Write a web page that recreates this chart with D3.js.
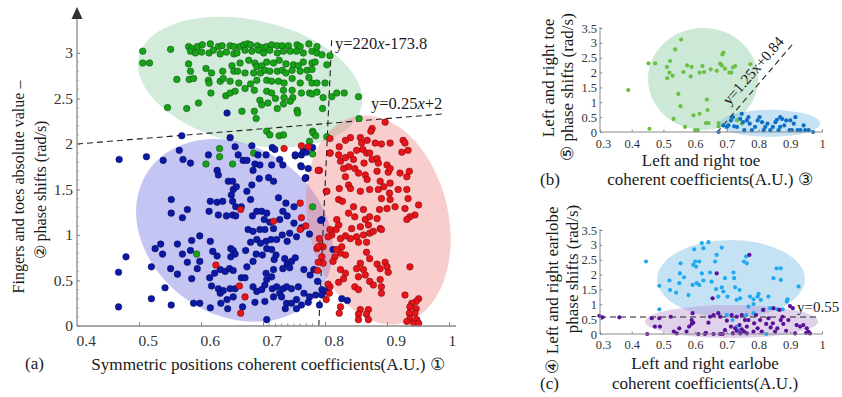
<!DOCTYPE html>
<html><head><meta charset="utf-8">
<script src="https://cdn.jsdelivr.net/npm/d3@7"></script>
<style>
body{margin:0;background:#fff;}
svg{display:block;font-family:"Liberation Serif","Times New Roman",serif;}
</style></head><body>
<svg id="c" width="842" height="397"></svg>
<script>
// ---------- DATA: panel (a) ----------
const xTicksA = [0.4,0.5,0.6,0.7,0.8,0.9,1];
const yTicksA = [0,0.5,1,1.5,2,2.5,3];
const greenA = [
[0.580,3.07],[0.585,3.05],[0.594,3.07],[0.602,3.09],[0.615,3.10],[0.628,3.07],[0.634,3.08],[0.647,3.08],[0.653,3.07],[0.663,3.07],[0.669,3.09],[0.675,3.10],[0.680,3.09],[0.691,3.08],[0.698,3.06],[0.706,3.07],[0.714,3.09],[0.723,3.08],[0.731,3.08],[0.741,3.08],[0.755,3.09],[0.760,3.07],[0.774,3.10],[0.787,3.07],
[0.506,3.02],[0.551,3.04],[0.583,3.02],[0.591,3.00],[0.601,3.01],[0.613,3.00],[0.620,3.03],[0.631,2.99],[0.641,3.01],[0.653,2.99],[0.658,3.00],[0.671,3.03],[0.682,3.02],[0.693,3.03],[0.701,3.00],[0.711,3.03],[0.723,3.00],[0.733,3.02],[0.744,3.02],[0.754,3.02],[0.765,3.00],[0.779,3.02],[0.787,3.00],[0.795,2.98],[0.808,2.97],
[0.506,2.89],[0.517,2.89],[0.580,2.88],[0.608,2.83],[0.650,2.86],[0.663,2.89],[0.677,2.92],[0.687,2.89],[0.690,2.85],[0.698,2.86],[0.706,2.90],[0.717,2.89],[0.726,2.92],[0.737,2.88],[0.749,2.87],[0.757,2.86],[0.765,2.90],[0.779,2.89],[0.784,2.90],[0.803,2.87],
[0.583,2.80],[0.617,2.78],[0.635,2.80],[0.653,2.80],[0.659,2.80],[0.671,2.78],[0.685,2.78],[0.696,2.78],[0.703,2.81],[0.711,2.80],[0.723,2.80],[0.731,2.81],[0.737,2.78],[0.747,2.81],[0.760,2.80],[0.771,2.81],[0.779,2.82],
[0.561,2.71],[0.581,2.71],[0.588,2.72],[0.612,2.70],[0.613,2.67],[0.631,2.69],[0.636,2.72],[0.647,2.69],[0.661,2.67],[0.680,2.66],[0.690,2.70],[0.706,2.70],[0.714,2.69],[0.725,2.69],[0.734,2.67],[0.747,2.72],[0.760,2.67],[0.774,2.73],[0.779,2.67],[0.787,2.67],[0.800,2.67],
[0.616,2.56],[0.640,2.53],[0.647,2.56],[0.655,2.58],[0.671,2.61],[0.686,2.59],[0.706,2.58],[0.714,2.56],[0.733,2.59],[0.734,2.51],[0.747,2.59],[0.748,2.51],[0.762,2.56],[0.775,2.56],[0.779,2.55],[0.787,2.57],[0.797,2.51],[0.811,2.52],[0.819,2.56],[0.831,2.56],[0.854,2.52],
[0.546,2.40],[0.577,2.39],[0.596,2.45],[0.666,2.36],[0.686,2.36],[0.689,2.28],[0.695,2.48],[0.698,2.43],[0.708,2.45],[0.723,2.39],[0.733,2.44],[0.744,2.47],[0.755,2.37],[0.756,2.34],[0.796,2.39],[0.855,2.28],[0.720,2.50],
[0.706,2.14],[0.711,2.10],[0.726,2.09],[0.733,2.10],[0.780,2.14],[0.775,2.03],[0.803,2.08],
[0.630,1.95],[0.630,1.86],[0.608,1.78],[0.651,1.78],[0.685,1.90],[0.780,1.89],[0.780,1.31],[0.593,0.79],[0.781,2.12],[0.785,2.09]
];
const blueA = [
[0.642,2.34],[0.569,2.09],[0.647,2.07],
[0.468,1.83],[0.512,1.86],[0.539,1.82],[0.565,1.93],[0.571,1.83],[0.583,1.79],[0.612,1.88],[0.626,1.71],[0.628,1.66],[0.655,1.97],[0.660,1.88],[0.668,1.82],[0.674,1.82],[0.682,1.98],[0.684,1.71],[0.687,1.78],[0.692,1.88],[0.695,1.77],[0.705,1.88],[0.714,1.77],[0.715,1.96],[0.719,1.94],[0.727,1.83],[0.732,1.77],[0.752,1.87],[0.762,1.88],[0.766,1.92],[0.761,1.76],[0.769,1.63],[0.773,1.73],[0.780,1.96],
[0.644,1.59],[0.651,1.59],[0.652,1.50],[0.649,1.44],[0.657,1.53],[0.674,1.48],[0.682,1.55],[0.694,1.62],[0.709,1.63],[0.717,1.59],[0.680,1.39],[0.725,1.41],[0.737,1.35],[0.750,1.31],[0.552,1.39],[0.615,1.37],[0.626,1.36],[0.635,1.37],[0.651,1.37],[0.656,1.31],[0.665,1.31],
[0.552,1.24],[0.570,1.19],[0.578,1.28],[0.613,1.26],[0.628,1.22],[0.641,1.21],[0.651,1.22],[0.656,1.21],[0.683,1.21],[0.690,1.26],[0.698,1.26],[0.706,1.24],[0.702,1.17],[0.711,1.14],[0.717,1.07],[0.727,1.17],[0.732,1.26],[0.739,1.21],[0.750,1.13],[0.762,1.08],[0.775,1.01],
[0.676,1.06],[0.684,1.04],[0.695,1.06],[0.703,1.06],[0.690,0.95],[0.680,0.92],[0.696,0.91],[0.705,0.93],[0.713,0.95],[0.722,0.95],[0.731,1.00],[0.739,0.93],[0.743,1.02],[0.754,0.98],[0.598,0.99],[0.585,0.94],[0.562,0.90],[0.535,0.90],[0.526,0.85],[0.538,0.79],[0.570,0.79],[0.583,0.83],[0.615,0.93],[0.619,0.82],
[0.479,0.76],[0.520,0.65],[0.551,0.63],[0.562,0.57],[0.578,0.70],[0.594,0.63],[0.598,0.71],[0.626,0.77],[0.648,0.85],[0.652,0.83],[0.648,0.76],[0.655,0.79],[0.672,0.83],[0.674,0.65],[0.684,0.71],[0.689,0.79],[0.699,0.78],[0.706,0.85],[0.714,0.84],[0.718,0.73],[0.721,0.78],[0.735,0.74],[0.739,0.68],[0.746,0.71],[0.752,0.75],[0.717,0.62],[0.732,0.63],[0.743,0.64],[0.766,0.62],[0.782,0.62],[0.776,0.56],[0.788,0.49],
[0.585,0.52],[0.614,0.53],[0.622,0.58],[0.631,0.62],[0.639,0.60],[0.646,0.63],[0.652,0.61],[0.665,0.53],[0.671,0.53],[0.705,0.58],[0.714,0.54],
[0.467,0.59],[0.542,0.42],[0.520,0.30],[0.552,0.23],[0.467,0.21],[0.588,0.25],[0.598,0.25],[0.615,0.20],[0.632,0.25],[0.642,0.29],[0.652,0.32],[0.643,0.19],[0.667,0.21],[0.628,0.41],[0.631,0.36],[0.636,0.39],[0.647,0.41],[0.655,0.41],[0.617,0.44],
[0.684,0.43],[0.690,0.38],[0.698,0.40],[0.703,0.45],[0.706,0.51],[0.715,0.41],[0.722,0.43],[0.727,0.36],[0.732,0.41],[0.738,0.43],[0.746,0.41],[0.757,0.43],[0.766,0.36],[0.775,0.32],[0.785,0.34],[0.795,0.40],[0.803,0.38],[0.805,0.45],
[0.687,0.26],[0.703,0.27],[0.717,0.32],[0.730,0.32],[0.738,0.25],[0.746,0.25],[0.754,0.29],[0.762,0.23],[0.773,0.26],[0.791,0.23],[0.736,0.19],[0.754,0.19],[0.706,0.07],
[0.752,1.88],[0.765,1.92],[0.770,1.91],[0.762,1.75],[0.768,1.62],[0.795,1.17],[0.813,0.84],[0.827,0.30],[0.836,0.28],[0.795,0.34],[0.793,1.16]
];
const redA = [
[0.897,2.24],[0.876,2.17],[0.874,2.14],[0.841,2.07],[0.833,2.04],[0.857,2.07],[0.868,2.04],[0.859,2.01],[0.881,2.01],[0.891,2.00],[0.905,2.01],[0.926,2.04],[0.929,2.01],[0.934,1.93],[0.924,1.91],
[0.808,1.90],[0.823,1.97],[0.822,1.88],[0.825,1.81],[0.833,1.85],[0.841,1.88],[0.851,1.93],[0.861,1.94],[0.867,1.90],[0.872,1.90],[0.876,1.83],[0.884,1.84],[0.886,1.79],[0.863,1.79],[0.846,1.83],
[0.838,1.75],[0.848,1.73],[0.830,1.73],[0.854,1.68],[0.865,1.66],[0.868,1.61],[0.884,1.70],[0.900,1.77],[0.902,1.69],[0.905,1.73],[0.921,1.68],[0.932,1.64],[0.936,1.70],[0.833,1.64],
[0.838,1.55],[0.823,1.51],[0.841,1.51],[0.857,1.48],[0.872,1.50],[0.886,1.50],[0.889,1.59],[0.895,1.53],[0.905,1.57],[0.918,1.50],[0.932,1.50],[0.934,1.40],[0.904,1.46],[0.891,1.40],[0.905,1.39],
[0.913,1.31],[0.900,1.29],[0.929,1.29],[0.951,1.33],[0.945,1.22],[0.937,1.20],[0.932,1.17],[0.822,1.39],[0.828,1.37],[0.846,1.31],[0.862,1.28],[0.888,1.28],[0.838,1.24],[0.848,1.20],[0.865,1.17],[0.872,1.20],[0.884,1.18],
[0.870,1.11],[0.857,1.09],[0.843,1.07],[0.889,1.07],[0.819,1.17],[0.822,1.11],[0.818,1.06],[0.808,1.06],[0.811,1.00],[0.805,0.98],[0.825,0.96],[0.833,0.99],[0.841,0.96],[0.851,0.98],[0.862,1.00],[0.872,1.02],[0.878,1.04],[0.891,1.06],
[0.854,0.92],[0.867,0.92],[0.827,0.87],[0.825,0.80],[0.833,0.78],[0.819,0.84],[0.816,0.76],[0.813,0.71],[0.867,0.81],[0.872,0.74],[0.857,0.69],[0.851,0.63],[0.862,0.62],[0.865,0.56],[0.854,0.54],
[0.884,0.68],[0.897,0.70],[0.900,0.65],[0.889,0.63],[0.902,0.59],[0.937,0.65],[0.825,0.62],[0.833,0.58],[0.830,0.52],[0.822,0.48],[0.848,0.43],[0.854,0.40],[0.872,0.49],[0.878,0.45],[0.889,0.51],[0.891,0.43],[0.891,0.36],
[0.929,0.34],[0.951,0.30],[0.947,0.27],[0.940,0.25],[0.947,0.19],[0.937,0.21],[0.945,0.14],[0.936,0.14],[0.937,0.08],[0.948,0.07],[0.932,0.05],[0.943,0.03],[0.951,0.03],
[0.857,0.18],[0.870,0.18],[0.854,0.13],[0.867,0.13],[0.854,0.07],[0.870,0.07],[0.825,0.21],[0.823,0.14],[0.808,0.43],[0.807,0.36],[0.802,1.48],[0.791,1.71],[0.808,2.06],[0.797,0.87],[0.795,0.76],[0.797,0.69],[0.792,0.88],[0.787,0.85],
[0.734,1.95],[0.762,1.98],[0.773,1.97],[0.789,1.71],[0.760,1.35],[0.762,1.19],[0.760,1.06],[0.769,1.10],[0.717,1.15],[0.664,1.28],[0.624,0.67],[0.662,0.44],[0.671,0.32],[0.664,0.14],[0.788,0.61],[0.789,0.70],[0.805,0.46],[0.802,0.29],[0.791,0.96],[0.789,0.87],[0.803,1.48],[0.808,1.90]
];
// ---------- DATA: panels (b) and (c) ----------
const xTicksBC = [0.3,0.4,0.5,0.6,0.7,0.8,0.9,1];
const yTicksBC = [0,0.5,1,1.5,2,2.5,3,3.5];
const greenB = [
[0.389,1.41],[0.453,2.31],[0.474,2.31],[0.456,0.11],[0.511,2.19],[0.521,2.39],[0.519,2.00],[0.512,1.81],[0.529,1.89],[0.537,2.78],[0.556,3.11],[0.563,2.02],[0.575,2.24],[0.586,1.87],[0.589,2.19],[0.547,1.28],[0.554,0.87],[0.532,0.44],[0.568,0.17],[0.595,0.56],[0.600,0.06],[0.608,0.06],[0.614,0.61],[0.614,2.00],[0.623,2.22],[0.628,2.02],[0.637,1.09],[0.639,0.74],[0.634,0.30],[0.642,0.30],[0.649,2.11],[0.668,2.06],[0.674,0.30],[0.674,0.19],[0.679,2.30],[0.686,2.61],[0.689,2.67],[0.684,2.24],[0.694,2.13],[0.708,2.00],[0.714,2.00],[0.719,2.17],[0.726,2.22],[0.774,2.28],[0.747,0.28],[0.732,0.39]
];
const blueB = [
[0.674,0.00],[0.689,0.22],[0.700,0.17],[0.705,0.22],[0.713,0.39],[0.719,0.50],[0.723,0.19],[0.732,0.17],[0.742,0.44],[0.747,0.61],[0.751,0.33],[0.755,0.06],[0.763,0.39],[0.768,0.50],[0.772,0.28],[0.779,0.06],[0.789,0.17],[0.797,0.39],[0.803,0.50],[0.811,0.33],[0.816,0.06],[0.821,0.17],[0.828,0.28],[0.837,0.06],[0.845,0.17],[0.853,0.33],[0.858,0.41],[0.863,0.06],[0.868,0.17],[0.874,0.44],[0.881,0.22],[0.887,0.39],[0.898,0.06],[0.905,0.06],[0.911,0.28],[0.916,0.50],[0.923,0.06],[0.932,0.06],[0.942,0.22],[0.947,0.06],[0.958,0.06],[0.972,0.00],[0.868,0.50],[0.900,0.39]
];
const cyanC = [
[0.445,2.44],[0.487,1.62],[0.487,0.83],[0.521,1.48],[0.519,1.80],[0.540,1.39],[0.552,2.04],[0.550,1.71],[0.554,2.38],[0.565,1.91],[0.579,1.31],[0.597,2.85],[0.600,2.44],[0.594,2.33],[0.603,2.27],[0.592,1.65],[0.605,1.71],[0.613,1.65],[0.613,2.44],[0.621,3.06],[0.626,2.89],[0.621,2.04],[0.626,1.80],[0.642,3.09],[0.647,2.07],[0.652,1.76],[0.663,2.44],[0.666,1.51],[0.668,2.66],[0.673,1.26],[0.684,2.91],[0.689,1.43],[0.684,1.57],[0.694,1.88],[0.702,1.26],[0.721,2.07],[0.723,1.88],[0.731,1.15],[0.726,1.57],[0.740,1.48],[0.742,1.20],[0.754,2.44],[0.761,2.61],[0.763,2.38],[0.773,1.26],[0.784,1.17],[0.797,1.26],[0.800,1.35],[0.784,1.01],[0.807,1.15],[0.831,1.26],[0.847,1.88],[0.857,2.21],[0.870,2.21],[0.870,1.82],[0.889,1.09],[0.891,1.17],[0.926,1.60],[0.876,0.83],[0.859,0.83],[0.836,0.87],[0.813,0.81],[0.824,0.00],[0.784,0.70],[0.768,0.92],[0.718,0.47],[0.731,0.25],[0.740,0.13],[0.700,0.64],[0.761,0.64]
];
const purpleC = [
[0.298,0.61],[0.308,0.56],[0.361,0.56],[0.449,0.00],[0.463,0.53],[0.473,0.25],[0.489,0.25],[0.487,0.53],[0.523,0.58],[0.533,0.08],[0.542,0.02],[0.550,0.19],[0.573,0.08],[0.581,0.25],[0.589,0.47],[0.589,0.34],[0.592,0.70],[0.594,0.38],[0.610,0.00],[0.631,0.00],[0.634,0.04],[0.642,0.38],[0.647,0.58],[0.655,1.20],[0.668,2.04],[0.658,0.64],[0.673,0.70],[0.679,0.58],[0.679,0.00],[0.687,0.00],[0.694,0.13],[0.700,0.45],[0.713,0.25],[0.719,0.02],[0.726,0.19],[0.731,0.11],[0.740,0.30],[0.742,0.02],[0.747,0.16],[0.754,0.08],[0.763,0.02],[0.763,0.25],[0.771,2.66],[0.768,0.47],[0.786,0.36],[0.792,0.64],[0.797,0.19],[0.805,0.47],[0.810,0.08],[0.815,0.81],[0.824,0.34],[0.831,0.53],[0.838,0.22],[0.845,0.36],[0.852,0.08],[0.859,0.19],[0.866,0.81],[0.870,0.47],[0.878,0.34],[0.887,0.11],[0.894,0.47],[0.899,0.94],[0.908,0.87],[0.915,0.02],[0.920,0.30],[0.931,0.25],[0.941,0.30],[0.952,0.19],[0.957,0.08],[0.962,0.02],[0.950,0.04],[0.658,0.00],[0.731,0.58],[0.747,0.64],[0.757,0.47],[0.715,0.64],[0.847,0.87],[0.876,0.58],[0.784,0.08]
];

// ---------- DRAW ----------
const svg = d3.select("#c");
const TXT = "#1a1a1a", AX = "#8a8a8a";

function ell(g, xs, ys, e, fill, op) {
  const cx = xs(e.cx), cy = ys(e.cy);
  const rx = Math.abs(xs(e.cx + e.rx) - cx), ry = Math.abs(ys(e.cy + e.ry) - cy);
  g.append("ellipse").attr("cx", cx).attr("cy", cy).attr("rx", rx).attr("ry", ry)
    .attr("transform", `rotate(${e.rot},${cx},${cy})`)
    .attr("fill", fill).attr("fill-opacity", op);
}
function dots(g, xs, ys, data, r, fill, stroke) {
  g.append("g").selectAll("circle").data(data).join("circle")
    .attr("cx", d => xs(d[0])).attr("cy", d => ys(d[1])).attr("r", r)
    .attr("fill", fill).attr("stroke", stroke || "none").attr("stroke-width", stroke ? 0.5 : 0);
}
function dashed(g, xs, ys, pts) {
  g.append("path").attr("d", d3.line().x(d => xs(d[0])).y(d => ys(d[1]))(pts))
    .attr("fill", "none").attr("stroke", "#222").attr("stroke-width", 1.1).attr("stroke-dasharray", "6,4");
}
function styleAxis(g, fs) {
  g.select(".domain").remove();
  g.attr("font-family", null).attr("font-size", null);
  g.selectAll("line").attr("stroke", AX);
  g.selectAll("text").attr("fill", "#333").attr("font-size", fs);
}
function vtext(g, x, y, txt, fs) {
  g.append("text").attr("transform", `translate(${x},${y}) rotate(-90)`)
    .attr("text-anchor", "middle").attr("dy", "0.35em").attr("font-size", fs).attr("fill", TXT).text(txt);
}
function htext(g, x, y, txt, fs, anchor) {
  return g.append("text").attr("x", x).attr("y", y).attr("text-anchor", anchor || "middle")
    .attr("font-size", fs).attr("fill", TXT).text(txt);
}

// ===== Panel (a) =====
const xA = d3.scaleLinear().domain([0.4, 1]).range([77, 449]);
const yA = d3.scaleLinear().domain([0, 3]).range([326, 53]);
const gA = svg.append("g");
ell(gA, xA, yA, {cx: 0.679, cy: 2.68, rx: 0.184, ry: 0.68, rot: 12.7}, "#8fcca4", 0.4);
ell(gA, xA, yA, {cx: 0.654, cy: 1.05, rx: 0.169, ry: 0.923, rot: 35}, "#6e6ee0", 0.4);
ell(gA, xA, yA, {cx: 0.886, cy: 1.165, rx: 0.171, ry: 0.77, rot: 77}, "#f07070", 0.35);
dashed(gA, xA, yA, [[0.4, 2.0], [0.99, 2.33]]);
dashed(gA, xA, yA, [[0.790, 0], [0.811, 3.18]]);
dots(gA, xA, yA, greenA, 3.3, "#17a317", "#0b4a0b");
dots(gA, xA, yA, blueA, 3.3, "#0b19a6", "#050b50");
dots(gA, xA, yA, redA, 3.3, "#e8141a", "#6a0808");

// axes (a)
const axA = gA.append("g").attr("transform", "translate(0,326)")
  .call(d3.axisBottom(xA).tickValues(xTicksA).tickSize(-4).tickFormat(d => String(d)));
styleAxis(axA, 15.5);
axA.selectAll("text").attr("text-anchor", "start").attr("x", -1).attr("y", 20).attr("dy", 0);
axA.selectAll(".tick").filter(d => d === 0.4).select("line").remove();
gA.append("g").selectAll("line").data(d3.range(71, 80).map(v => v / 100)).join("line")
  .attr("x1", d => xA(d)).attr("x2", d => xA(d)).attr("y1", 326).attr("y2", 323.5).attr("stroke", AX);
const ayA = gA.append("g").attr("transform", "translate(77,0)")
  .call(d3.axisLeft(yA).tickValues(yTicksA).tickSize(-3).tickPadding(4).tickFormat(d => String(d)));
styleAxis(ayA, 15.5);
gA.append("g").selectAll("line").data(d3.range(1, 31).map(v => v / 10)).join("line")
  .attr("x1", 77).attr("x2", 79).attr("y1", d => yA(d)).attr("y2", d => yA(d)).attr("stroke", AX).attr("stroke-width", 0.6);
gA.append("line").attr("x1", 77).attr("x2", 456).attr("y1", 326).attr("y2", 326).attr("stroke", AX).attr("stroke-width", 1.3);
gA.append("line").attr("x1", 77).attr("x2", 77).attr("y1", 326).attr("y2", 17).attr("stroke", AX).attr("stroke-width", 1.3);
gA.append("path").attr("d", "M71.5,19 L82.5,19 L77,7 Z").attr("fill", "#333");

// text (a)
const eq1 = htext(gA, 335, 49, "", 16.5, "start");
eq1.append("tspan").text("y=220");
eq1.append("tspan").attr("font-style", "italic").text("x");
eq1.append("tspan").text("-173.8");
const eq2 = htext(gA, 371, 109, "", 16.5, "start");
eq2.append("tspan").text("y=0.25");
eq2.append("tspan").attr("font-style", "italic").text("x");
eq2.append("tspan").text("+2");
htext(gA, 268, 370, "Symmetric positions coherent coefficients(A.U.) \u2460", 17.2);
htext(gA, 25, 369, "(a)", 17, "start");
vtext(gA, 18, 187, "Fingers and toes absolute value \u2013", 16);
vtext(gA, 40, 190, "\u2461 phase shifts (rad/s)", 16);

// ===== Panel (b) =====
const xB = d3.scaleLinear().domain([0.3, 1]).range([600, 822]);
const yB = d3.scaleLinear().domain([0, 3.5]).range([132, 28]);
const gB = svg.append("g");
ell(gB, xB, yB, {cx: 0.625, cy: 1.785, rx: 0.1735, ry: 1.717, rot: 0}, "#8fcca4", 0.45);
ell(gB, xB, yB, {cx: 0.836, cy: 0.29, rx: 0.158, ry: 0.455, rot: 0}, "#7fbfe9", 0.45);
dashed(gB, xB, yB, [[0.668, -0.03], [0.911, 3.0]]);
dots(gB, xB, yB, greenB, 2.1, "#6cbf45");
dots(gB, xB, yB, blueB, 2.1, "#0d6fc6");
const axB = gB.append("g").attr("transform", "translate(0,132)")
  .call(d3.axisBottom(xB).tickValues(xTicksBC).tickSize(-2.5).tickFormat(d => String(d)));
styleAxis(axB, 12.5);
axB.selectAll("text").attr("y", 16).attr("dy", 0);
axB.selectAll(".tick").filter(d => d === 0.3).select("text").attr("x", 3);
const ayB = gB.append("g").attr("transform", "translate(600,0)")
  .call(d3.axisLeft(yB).tickValues(yTicksBC).tickSize(-2.5).tickPadding(3).tickFormat(d => String(d)));
styleAxis(ayB, 12.5);
gB.append("line").attr("x1", 600).attr("x2", 823).attr("y1", 132).attr("y2", 132).attr("stroke", AX);
gB.append("line").attr("x1", 600).attr("x2", 600).attr("y1", 132).attr("y2", 27).attr("stroke", AX);
gB.append("text").attr("transform", "translate(757,74) rotate(-49)").attr("text-anchor", "middle")
  .attr("font-size", 15).attr("fill", TXT).text("y=1.25x+0.84");
htext(gB, 701, 166, "Left and right toe", 17);
htext(gB, 710, 185, "coherent coefficients(A.U.) \u2462", 17);
htext(gB, 540, 185, "(b)", 17, "start");
vtext(gB, 548, 78, "Left and right toe", 17);
vtext(gB, 567, 87, "\u2464 phase shifts (rad/s)", 17);

// ===== Panel (c) =====
const xC = d3.scaleLinear().domain([0.3, 1]).range([600, 822]);
const yC = d3.scaleLinear().domain([0, 3.5]).range([334, 230]);
const gC = svg.append("g");
ell(gC, xC, yC, {cx: 0.713, cy: 1.85, rx: 0.233, ry: 1.31, rot: 0}, "#7fbfe9", 0.45);
ell(gC, xC, yC, {cx: 0.715, cy: 0.42, rx: 0.273, ry: 0.556, rot: 0}, "#b58fd0", 0.4);
dashed(gC, xC, yC, [[0.3, 0.57], [0.985, 0.57]]);
dots(gC, xC, yC, cyanC, 2.1, "#1eaaf0");
dots(gC, xC, yC, purpleC, 2.1, "#5a1098");
const axC = gC.append("g").attr("transform", "translate(0,334)")
  .call(d3.axisBottom(xC).tickValues(xTicksBC).tickSize(-2.5).tickFormat(d => String(d)));
styleAxis(axC, 12.5);
axC.selectAll("text").attr("y", 15).attr("dy", 0);
axC.selectAll(".tick").filter(d => d === 0.3).select("text").attr("x", 3);
const ayC = gC.append("g").attr("transform", "translate(600,0)")
  .call(d3.axisLeft(yC).tickValues(yTicksBC).tickSize(-2.5).tickPadding(3).tickFormat(d => String(d)));
styleAxis(ayC, 12.5);
gC.append("line").attr("x1", 600).attr("x2", 823).attr("y1", 334).attr("y2", 334).attr("stroke", AX);
gC.append("line").attr("x1", 600).attr("x2", 600).attr("y1", 334).attr("y2", 229).attr("stroke", AX);
htext(gC, 797, 312, "y=0.55", 15, "start");
htext(gC, 705, 369, "Left and right earlobe", 17);
htext(gC, 705, 389, "coherent coefficients(A.U.)", 17);
htext(gC, 540, 389, "(c)", 17, "start");
vtext(gC, 552, 290, "\u2463 Left and right earlobe", 17);
vtext(gC, 572, 269, "phase shifts (rad/s)", 17);
</script>
</body></html>
